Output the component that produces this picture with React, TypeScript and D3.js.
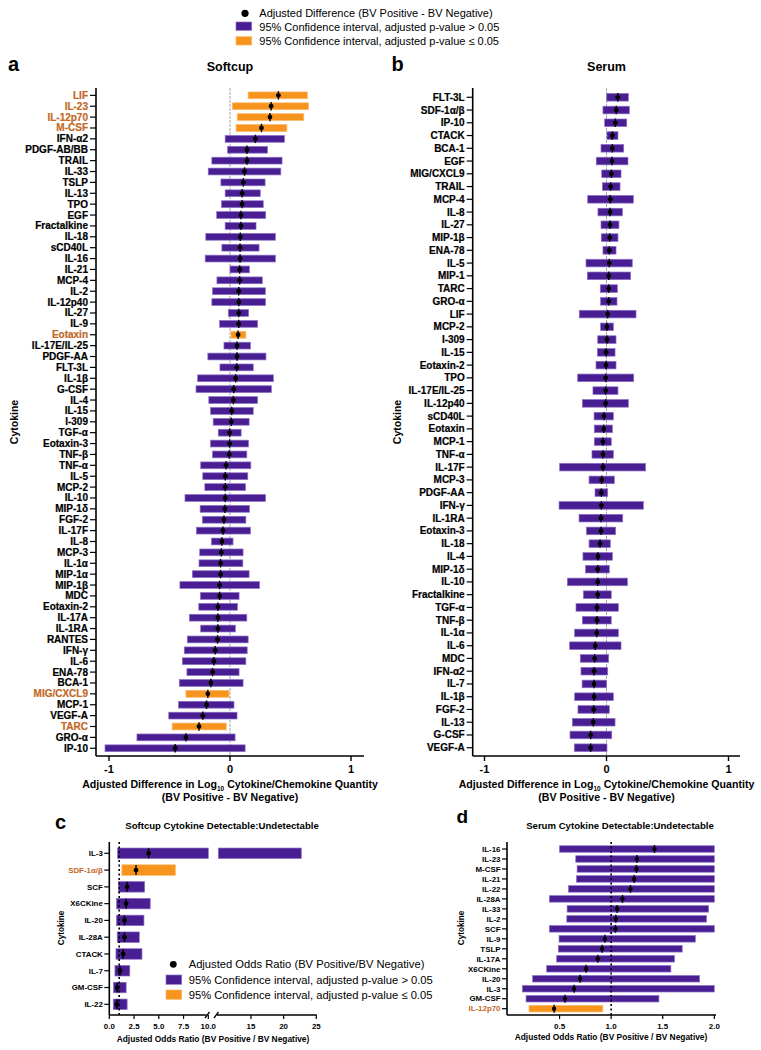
import React from "react";
import * as d3 from "d3";

const FONT = "'Liberation Sans', Arial, Helvetica, sans-serif";
const PURPLE = "#4a1e93";
const PURPLE_EDGE = "#8d70c6";
const ORANGE = "#f7941d";
const ORANGE_EDGE = "#fbb866";
const ORANGE_TEXT = "#c2681f";

// ---------- Panel a: Softcup ----------
const softcupNames = ["LIF","IL-23","IL-12p70","M-CSF","IFN-α2","PDGF-AB/BB","TRAIL","IL-33","TSLP","IL-13","TPO","EGF","Fractalkine","IL-18","sCD40L","IL-16","IL-21","MCP-4","IL-2","IL-12p40","IL-27","IL-9","Eotaxin","IL-17E/IL-25","PDGF-AA","FLT-3L","IL-1β","G-CSF","IL-4","IL-15","I-309","TGF-α","Eotaxin-3","TNF-β","TNF-α","IL-5","MCP-2","IL-10","MIP-1δ","FGF-2","IL-17F","IL-8","MCP-3","IL-1α","MIP-1α","MIP-1β","MDC","Eotaxin-2","IL-17A","IL-1RA","RANTES","IFN-γ","IL-6","ENA-78","BCA-1","MIG/CXCL9","MCP-1","VEGF-A","TARC","GRO-α","IP-10"];
const softcupEst = [0.40,0.34,0.33,0.26,0.21,0.14,0.14,0.12,0.11,0.10,0.10,0.09,0.09,0.085,0.083,0.083,0.08,0.08,0.072,0.072,0.072,0.072,0.067,0.058,0.058,0.056,0.047,0.031,0.028,0.014,0.011,-0.003,-0.003,-0.006,-0.033,-0.039,-0.039,-0.039,-0.042,-0.05,-0.058,-0.067,-0.072,-0.078,-0.078,-0.086,-0.086,-0.10,-0.10,-0.10,-0.103,-0.122,-0.133,-0.144,-0.158,-0.183,-0.194,-0.225,-0.256,-0.364,-0.453];
const softcupLow = [0.15,0.02,0.06,0.05,-0.04,-0.02,-0.15,-0.18,-0.075,-0.04,-0.07,-0.11,-0.04,-0.20,-0.067,-0.205,0.0,-0.108,-0.144,-0.15,-0.014,-0.086,0.008,-0.05,-0.183,-0.083,-0.267,-0.281,-0.175,-0.161,-0.139,-0.097,-0.161,-0.144,-0.242,-0.225,-0.208,-0.372,-0.247,-0.228,-0.278,-0.153,-0.25,-0.256,-0.311,-0.414,-0.244,-0.258,-0.336,-0.242,-0.353,-0.378,-0.394,-0.356,-0.419,-0.364,-0.425,-0.506,-0.478,-0.769,-1.033];
const softcupHigh = [0.64,0.65,0.61,0.47,0.45,0.31,0.43,0.42,0.29,0.25,0.275,0.295,0.215,0.375,0.24,0.375,0.16,0.267,0.292,0.294,0.153,0.228,0.131,0.169,0.297,0.192,0.358,0.342,0.228,0.192,0.158,0.092,0.153,0.139,0.172,0.147,0.128,0.294,0.161,0.131,0.169,0.025,0.108,0.106,0.158,0.244,0.075,0.061,0.139,0.044,0.15,0.142,0.131,0.075,0.108,-0.008,0.033,0.058,-0.031,0.042,0.125];
const softcupSignificant = ["LIF","IL-23","IL-12p70","M-CSF","Eotaxin","MIG/CXCL9","TARC"];

// ---------- Panel b: Serum ----------
const serumNames = ["FLT-3L","SDF-1α/β","IP-10","CTACK","BCA-1","EGF","MIG/CXCL9","TRAIL","MCP-4","IL-8","IL-27","MIP-1β","ENA-78","IL-5","MIP-1","TARC","GRO-α","LIF","MCP-2","I-309","IL-15","Eotaxin-2","TPO","IL-17E/IL-25","IL-12p40","sCD40L","Eotaxin","MCP-1","TNF-α","IL-17F","MCP-3","PDGF-AA","IFN-γ","IL-1RA","Eotaxin-3","IL-18","IL-4","MIP-1δ","IL-10","Fractalkine","TGF-α","TNF-β","IL-1α","IL-6","MDC","IFN-α2","IL-7","IL-1β","FGF-2","IL-13","G-CSF","VEGF-A"];
const serumEst = [0.092,0.08,0.072,0.048,0.048,0.045,0.04,0.034,0.031,0.029,0.029,0.026,0.023,0.023,0.018,0.018,0.018,0.01,0.004,0.004,-0.004,-0.004,-0.007,-0.007,-0.007,-0.02,-0.023,-0.029,-0.029,-0.029,-0.04,-0.042,-0.042,-0.045,-0.045,-0.053,-0.07,-0.072,-0.072,-0.072,-0.078,-0.078,-0.08,-0.092,-0.097,-0.102,-0.102,-0.102,-0.105,-0.108,-0.13,-0.13];
const serumLow = [0.002,-0.029,-0.015,0.004,-0.045,-0.084,-0.039,-0.034,-0.154,-0.07,-0.045,-0.043,-0.029,-0.168,-0.157,-0.051,-0.048,-0.223,-0.048,-0.072,-0.075,-0.086,-0.236,-0.111,-0.198,-0.102,-0.10,-0.10,-0.119,-0.384,-0.143,-0.094,-0.389,-0.225,-0.165,-0.143,-0.193,-0.171,-0.321,-0.19,-0.25,-0.198,-0.261,-0.302,-0.215,-0.209,-0.20,-0.261,-0.234,-0.28,-0.299,-0.264];
const serumHigh = [0.179,0.187,0.166,0.094,0.141,0.176,0.119,0.111,0.22,0.13,0.102,0.094,0.078,0.211,0.198,0.089,0.086,0.242,0.056,0.078,0.07,0.078,0.223,0.094,0.179,0.056,0.048,0.039,0.056,0.321,0.064,0.01,0.302,0.133,0.075,0.031,0.048,0.023,0.171,0.039,0.097,0.039,0.097,0.119,0.018,0.01,0.0,0.056,0.023,0.07,0.043,0.004];
const serumSignificant: string[] = [];

// ---------- Panel c: Softcup detectable ----------
const scDetNames = ["IL-3","SDF-1α/β","SCF","X6CKine","IL-20","IL-28A","CTACK","IL-7","GM-CSF","IL-22"];
const scDetOR = [3.97,2.7,1.8,1.7,1.53,1.53,1.4,1.07,0.8,0.77];
const scDetLow = [0.83,1.27,0.93,0.73,0.73,0.8,0.67,0.57,0.43,0.4];
const scDetHigh = [22.7,6.67,3.57,4.13,3.5,3.03,3.3,2.07,1.7,1.8];
const scDetSignificant = ["SDF-1α/β"];
const scTicksLow = [0, 2.5, 5, 7.5, 10];
const scTicksHigh = [15, 20, 25];

// ---------- Panel d: Serum detectable ----------
const seDetNames = ["IL-16","IL-23","M-CSF","IL-21","IL-22","IL-28A","IL-33","IL-2","SCF","IL-9","TSLP","IL-17A","X6CKine","IL-20","IL-3","GM-CSF","IL-12p70"];
const seDetOR = [1.42,1.25,1.245,1.223,1.187,1.11,1.058,1.045,1.042,0.939,0.913,0.871,0.757,0.699,0.641,0.553,0.447];
const seDetLow = [0.5,0.657,0.67,0.664,0.586,0.401,0.573,0.57,0.401,0.495,0.488,0.472,0.375,0.239,0.139,0.175,0.204];
const seDetHigh = [2.0,2.0,2.0,2.0,2.0,2.0,1.945,1.925,2.0,1.816,1.689,1.614,1.579,1.857,2.0,1.463,0.919];
const seDetSignificant = ["IL-12p70"];
const seTicks = [0.5, 1.0, 1.5, 2.0];

const diffTicks = [-1, 0, 1];

function Marker({ cx, cy, r, h }: { cx: number; cy: number; r: number; h: number }) {
  return (
    <g>
      <line x1={cx} x2={cx} y1={cy - h} y2={cy + h} stroke="#000" strokeWidth={1.4} />
      <circle cx={cx} cy={cy} r={r} fill="#000" />
    </g>
  );
}

function DiffPanel(props: any) {
  const { names, est, low, high, sig, x0, x1, yTop, yBot, axisX, axisY, axisEnd, barH, letter, letterX, title, cytX, tickFs } = props;
  const x = d3.scaleLinear().domain([-1.1, 1.1]).range([x0, x1]);
  const y = d3.scaleBand<string>().domain(names).range([yTop, yBot]);
  const bw = y.bandwidth();
  const cx = x(0);
  const midY = (88 + axisY) / 2;
  return (
    <g fontFamily={FONT}>
      <text x={letterX} y={71} fontSize={20} fontWeight="bold">{letter}</text>
      <text x={cx} y={71} fontSize={12.5} fontWeight="bold" textAnchor="middle">{title}</text>
      <line x1={cx} x2={cx} y1={88} y2={axisY} stroke="#9a9a9a" strokeWidth={0.9} strokeDasharray="3,1" />
      {names.map((n: string, i: number) => {
        const s = sig.includes(n);
        const yc = (y(n) as number) + bw / 2;
        return (
          <g key={n}>
            <rect x={x(low[i])} y={yc - barH / 2} width={x(high[i]) - x(low[i])} height={barH}
              fill={s ? ORANGE : PURPLE} stroke={s ? ORANGE_EDGE : PURPLE_EDGE} strokeWidth={0.7} />
            <Marker cx={x(est[i])} cy={yc} r={2.4} h={4.2} />
            <line x1={axisX - 6} x2={axisX} y1={yc} y2={yc} stroke="#000" strokeWidth={1.2} />
            <text x={axisX - 8} y={yc} dy="0.35em" textAnchor="end" fontSize={tickFs} fontWeight="bold"
              fill={s ? ORANGE_TEXT : "#000"} stroke={s ? ORANGE_TEXT : "#000"} strokeWidth={0.2}>{n}</text>
          </g>
        );
      })}
      <line x1={axisX} x2={axisX} y1={88} y2={axisY} stroke="#000" strokeWidth={1.6} />
      <line x1={axisX} x2={axisEnd} y1={axisY} y2={axisY} stroke="#000" strokeWidth={1.6} />
      {diffTicks.map((t) => (
        <g key={t}>
          <line x1={x(t)} x2={x(t)} y1={axisY} y2={axisY + 5} stroke="#000" strokeWidth={1.4} />
          <text x={x(t)} y={axisY + 17} textAnchor="middle" fontSize={11} fontWeight="bold">{t === -1 ? "-1" : String(t)}</text>
        </g>
      ))}
      <text x={cx} y={axisY + 32} textAnchor="middle" fontSize={10.6} fontWeight="bold">
        <tspan>Adjusted Difference in Log</tspan>
        <tspan fontSize={6.5} dy={3}>10</tspan>
        <tspan dy={-3}> Cytokine/Chemokine Quantity</tspan>
      </text>
      <text x={cx} y={axisY + 45} textAnchor="middle" fontSize={10.6} fontWeight="bold">(BV Positive - BV Negative)</text>
      <text transform={`translate(${cytX},${midY}) rotate(-90)`} textAnchor="middle" dy="0.35em" fontSize={10.5} fontWeight="bold">Cytokine</text>
    </g>
  );
}

function PanelC() {
  const s1 = d3.scaleLinear().domain([0, 10]).range([109.3, 208.3]);
  const s2 = d3.scaleLinear().domain([10, 25]).range([218.3, 316.3]);
  const y = d3.scaleBand<string>().domain(scDetNames).range([844.9, 1012.7]);
  const bw = y.bandwidth();
  const axisX = 109.3, axisY = 1015, top = 842;
  const barH = 10.5;
  const xv = (v: number) => (v <= 10 ? s1(v) : s2(v));
  return (
    <g fontFamily={FONT}>
      <text x={55} y={829} fontSize={20} fontWeight="bold">c</text>
      <text x={222} y={828.5} fontSize={9.6} fontWeight="bold" textAnchor="middle">Softcup Cytokine Detectable:Undetectable</text>
      {scDetNames.map((n, i) => {
        const s = scDetSignificant.includes(n);
        const yc = (y(n) as number) + bw / 2;
        const fill = s ? ORANGE : PURPLE;
        const edge = s ? ORANGE_EDGE : PURPLE_EDGE;
        const lo = scDetLow[i], hi = scDetHigh[i];
        return (
          <g key={n}>
            {hi > 10 ? (
              <>
                <rect x={s1(lo)} y={yc - barH / 2} width={s1(10) - s1(lo)} height={barH} fill={fill} stroke={edge} strokeWidth={0.7} />
                <rect x={s2(10)} y={yc - barH / 2} width={s2(hi) - s2(10)} height={barH} fill={fill} stroke={edge} strokeWidth={0.7} />
              </>
            ) : (
              <rect x={s1(lo)} y={yc - barH / 2} width={s1(hi) - s1(lo)} height={barH} fill={fill} stroke={edge} strokeWidth={0.7} />
            )}
            <line x1={axisX - 5} x2={axisX} y1={yc} y2={yc} stroke="#000" strokeWidth={1.2} />
            <text x={axisX - 6.5} y={yc} dy="0.35em" textAnchor="end" fontSize={7.9} fontWeight="bold" fill={s ? ORANGE_TEXT : "#000"}>{n}</text>
          </g>
        );
      })}
      <line x1={s1(1)} x2={s1(1)} y1={top} y2={axisY} stroke="#000" strokeWidth={1.6} strokeDasharray="2,2.5" />
      {scDetNames.map((n, i) => {
        const yc = (y(n) as number) + bw / 2;
        return <Marker key={n} cx={xv(scDetOR[i])} cy={yc} r={2.4} h={5} />;
      })}
      <line x1={axisX} x2={axisX} y1={top} y2={axisY} stroke="#000" strokeWidth={1.6} />
      <line x1={axisX} x2={206.5} y1={axisY} y2={axisY} stroke="#000" strokeWidth={1.6} />
      <line x1={205} x2={209.5} y1={1018} y2={1012} stroke="#000" strokeWidth={1.3} />
      <line x1={214} x2={218.5} y1={1018} y2={1012} stroke="#000" strokeWidth={1.3} />
      <line x1={217} x2={316.7} y1={axisY} y2={axisY} stroke="#000" strokeWidth={1.6} />
      {scTicksLow.map((t) => (
        <g key={"l" + t}>
          <line x1={s1(t)} x2={s1(t)} y1={axisY} y2={axisY + 4} stroke="#000" strokeWidth={1.2} />
          <text x={s1(t)} y={axisY + 14} textAnchor="middle" fontSize={7.9} fontWeight="bold">{t.toFixed(1)}</text>
        </g>
      ))}
      {scTicksHigh.map((t) => (
        <g key={"h" + t}>
          <line x1={s2(t)} x2={s2(t)} y1={axisY} y2={axisY + 4} stroke="#000" strokeWidth={1.2} />
          <text x={s2(t)} y={axisY + 14} textAnchor="middle" fontSize={7.9} fontWeight="bold">{t}</text>
        </g>
      ))}
      <text x={213} y={1042} textAnchor="middle" fontSize={8.4} fontWeight="bold">Adjusted Odds Ratio (BV Positive / BV Negative)</text>
      <text transform={`translate(61,928) rotate(-90)`} textAnchor="middle" dy="0.35em" fontSize={8.2} fontWeight="bold">Cytokine</text>
      {/* legend */}
      <circle cx={173.3} cy={964.3} r={3.4} fill="#000" />
      <text x={188.7} y={968} fontSize={11.2}>Adjusted Odds Ratio (BV Positive/BV Negative)</text>
      <rect x={166} y={975} width={15.7} height={9.3} fill={PURPLE} stroke={PURPLE_EDGE} strokeWidth={0.7} />
      <text x={188.7} y={983.8} fontSize={11.2}>95% Confidence interval, adjusted p-value &gt; 0.05</text>
      <rect x={166} y={990} width={15.7} height={9.3} fill={ORANGE} stroke={ORANGE_EDGE} strokeWidth={0.7} />
      <text x={188.7} y={998.8} fontSize={11.2}>95% Confidence interval, adjusted p-value ≤ 0.05</text>
    </g>
  );
}

function PanelD() {
  const x = d3.scaleLinear().domain([0, 2]).range([508, 714.3]);
  const y = d3.scaleBand<string>().domain(seDetNames).range([844, 1013.7]);
  const bw = y.bandwidth();
  const axisX = 507, axisY = 1015, top = 842;
  const barH = 6.5;
  return (
    <g fontFamily={FONT}>
      <text x={456.5} y={823} fontSize={19} fontWeight="bold">d</text>
      <text x={620} y={828.5} fontSize={9.6} fontWeight="bold" textAnchor="middle">Serum Cytokine Detectable:Undetectable</text>
      {seDetNames.map((n, i) => {
        const s = seDetSignificant.includes(n);
        const yc = (y(n) as number) + bw / 2;
        return (
          <g key={n}>
            <rect x={x(seDetLow[i])} y={yc - barH / 2} width={x(seDetHigh[i]) - x(seDetLow[i])} height={barH}
              fill={s ? ORANGE : PURPLE} stroke={s ? ORANGE_EDGE : PURPLE_EDGE} strokeWidth={0.7} />
            <line x1={axisX - 5} x2={axisX} y1={yc} y2={yc} stroke="#000" strokeWidth={1.2} />
            <text x={axisX - 6.5} y={yc} dy="0.35em" textAnchor="end" fontSize={7.9} fontWeight="bold" fill={s ? ORANGE_TEXT : "#000"}>{n}</text>
          </g>
        );
      })}
      <line x1={x(1)} x2={x(1)} y1={top} y2={axisY} stroke="#000" strokeWidth={1.6} strokeDasharray="2,2.5" />
      {seDetNames.map((n, i) => {
        const yc = (y(n) as number) + bw / 2;
        return <Marker key={n} cx={x(seDetOR[i])} cy={yc} r={2.2} h={4} />;
      })}
      <line x1={axisX} x2={axisX} y1={top} y2={axisY} stroke="#000" strokeWidth={1.6} />
      <line x1={axisX} x2={716} y1={axisY} y2={axisY} stroke="#000" strokeWidth={1.6} />
      {seTicks.map((t) => (
        <g key={t}>
          <line x1={x(t)} x2={x(t)} y1={axisY} y2={axisY + 4} stroke="#000" strokeWidth={1.2} />
          <text x={x(t)} y={axisY + 14} textAnchor="middle" fontSize={8} fontWeight="bold">{t.toFixed(1)}</text>
        </g>
      ))}
      <text x={611} y={1040} textAnchor="middle" fontSize={8.4} fontWeight="bold">Adjusted Odds Ratio (BV Positive / BV Negative)</text>
      <text transform={`translate(461,928) rotate(-90)`} textAnchor="middle" dy="0.35em" fontSize={8.2} fontWeight="bold">Cytokine</text>
    </g>
  );
}

function TopLegend() {
  return (
    <g fontFamily={FONT} fontSize={11}>
      <circle cx={245} cy={13.3} r={3.6} fill="#000" />
      <text x={259.3} y={17.2}>Adjusted Difference (BV Positive - BV Negative)</text>
      <rect x={236} y={22} width={15.7} height={8.3} fill={PURPLE} stroke={PURPLE_EDGE} strokeWidth={0.7} />
      <text x={259.3} y={30.5}>95% Confidence interval, adjusted p-value &gt; 0.05</text>
      <rect x={236} y={36.7} width={15.7} height={8.3} fill={ORANGE} stroke={ORANGE_EDGE} strokeWidth={0.7} />
      <text x={259.3} y={45}>95% Confidence interval, adjusted p-value ≤ 0.05</text>
    </g>
  );
}

export default function App() {
  return (
    <svg width={761} height={1050} style={{ position: "absolute", left: 0, top: 0, background: "#fff" }}>
      <rect width={761} height={1050} fill="#fff" />
      <TopLegend />
      <DiffPanel names={softcupNames} est={softcupEst} low={softcupLow} high={softcupHigh} sig={softcupSignificant}
        x0={96.9} x1={363.1} yTop={89.9} yBot={753.7} axisX={96} axisY={756} axisEnd={364} barH={6.8}
        letter="a" letterX={8} title="Softcup" cytX={14} tickFs={10} />
      <DiffPanel names={serumNames} est={serumEst} low={serumLow} high={serumHigh} sig={serumSignificant}
        x0={472.3} x1={740.7} yTop={90.9} yBot={754.1} axisX={472.7} axisY={756} axisEnd={740} barH={7.6}
        letter="b" letterX={391.5} title="Serum" cytX={397} tickFs={10} />
      <PanelC />
      <PanelD />
    </svg>
  );
}
